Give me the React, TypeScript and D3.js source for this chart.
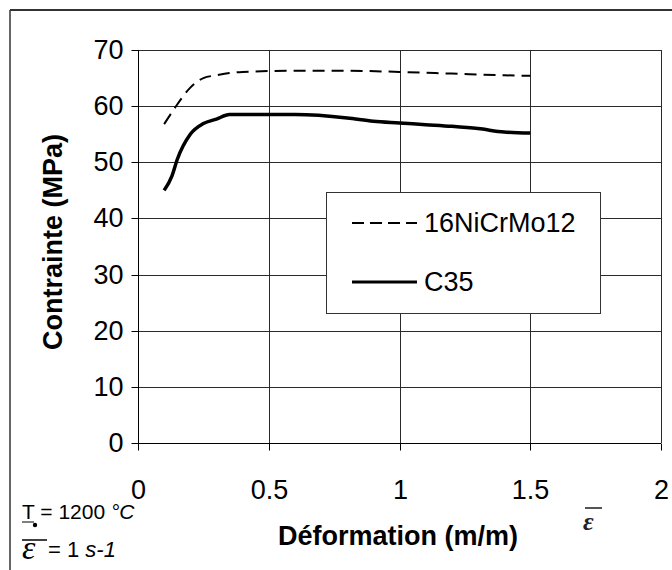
import React, { useRef, useEffect } from 'react';
import * as d3 from 'd3';

// strain (m/m) and stress (MPa)
const nicrStrain = [0.1, 0.15, 0.2, 0.25, 0.3, 0.35, 0.4, 0.6, 0.8, 1.0, 1.2, 1.4, 1.5];
const nicrStress = [56.8, 60.3, 63.3, 65.0, 65.5, 65.9, 66.1, 66.3, 66.3, 66.1, 65.8, 65.5, 65.4];

const c35Strain = [0.1, 0.13, 0.15, 0.2, 0.25, 0.3, 0.35, 0.6, 0.8, 0.9, 1.0, 1.1, 1.2, 1.3, 1.4, 1.5];
const c35Stress = [45.0, 47.6, 50.5, 55.0, 56.9, 57.7, 58.5, 58.5, 57.9, 57.3, 57.0, 56.7, 56.4, 56.0, 55.4, 55.2];

const xTicks = [0, 0.5, 1, 1.5, 2];
const yTicks = [0, 10, 20, 30, 40, 50, 60, 70];
const seriesNames = ['16NiCrMo12', 'C35'];

const FONT = '"Liberation Sans", Arial, sans-serif';

const App = () => {
  const svgRef = useRef(null);

  useEffect(() => {
    const svg = d3.select(svgRef.current);
    svg.selectAll('*').remove();

    const x = d3.scaleLinear().domain([0, 2]).range([138, 661]);
    const y = d3.scaleLinear().domain([0, 70]).range([443, 50]);
    // snap to pixel centres so 1px lines stay crisp
    const px = v => Math.round(v) + 0.5;

    // outer chart frame (only top and left edges are visible)
    svg.append('line').attr('x1', 10).attr('x2', 672).attr('y1', 10).attr('y2', 10)
      .attr('stroke', '#333').attr('stroke-width', 2);
    svg.append('line').attr('x1', 10).attr('x2', 10).attr('y1', 10).attr('y2', 570)
      .attr('stroke', '#333').attr('stroke-width', 1.5);

    // grid
    const grid = svg.append('g').attr('stroke', '#2a2a2a').attr('stroke-width', 1);
    grid.selectAll('.hg').data(yTicks.filter(d => d > 0)).enter().append('line')
      .attr('x1', x(0)).attr('x2', x(2))
      .attr('y1', d => px(y(d))).attr('y2', d => px(y(d)));
    grid.selectAll('.vg').data(xTicks.filter(d => d > 0)).enter().append('line')
      .attr('x1', d => px(x(d))).attr('x2', d => px(x(d)))
      .attr('y1', y(0)).attr('y2', y(70));

    // axes
    const xAxis = svg.append('g')
      .attr('transform', `translate(0,${px(y(0))})`)
      .call(d3.axisBottom(x).tickValues(xTicks).tickSize(7).tickPadding(29).tickFormat(d3.format('')));
    const yAxis = svg.append('g')
      .attr('transform', `translate(${px(x(0))},0)`)
      .call(d3.axisLeft(y).tickValues(yTicks).tickSize(7).tickPadding(8));
    [xAxis, yAxis].forEach(a => {
      a.select('.domain').attr('stroke', '#000').attr('stroke-width', 1);
      a.selectAll('.tick line').attr('stroke', '#000');
      a.selectAll('text').attr('font-family', FONT).attr('font-size', 27).attr('fill', '#000');
    });
    xAxis.selectAll('.tick').attr('transform', d => `translate(${px(x(d))},0)`);
    yAxis.selectAll('.tick').attr('transform', d => `translate(0,${px(y(d))})`);
    xAxis.select('.domain').attr('d', `M${x(0)},0H${x(2)}`);
    yAxis.select('.domain').attr('d', `M0,${y(0)}V${y(70)}`);

    // curves
    const line = d3.line().x(d => x(d[0])).y(d => y(d[1])).curve(d3.curveMonotoneX);
    const nicr = nicrStrain.map((s, i) => [s, nicrStress[i]]);
    const c35 = c35Strain.map((s, i) => [s, c35Stress[i]]);

    svg.append('path').attr('d', line(nicr)).attr('fill', 'none')
      .attr('stroke', '#000').attr('stroke-width', 2).attr('stroke-dasharray', '12,7');
    svg.append('path').attr('d', line(c35)).attr('fill', 'none')
      .attr('stroke', '#000').attr('stroke-width', 3.5).attr('stroke-linejoin', 'round');

    // axis titles
    svg.append('text').attr('transform', 'translate(62,242) rotate(-90)')
      .attr('text-anchor', 'middle').attr('font-family', FONT).attr('font-weight', 'bold')
      .attr('font-size', 27).text('Contrainte (MPa)');
    svg.append('text').attr('x', 398).attr('y', 545)
      .attr('text-anchor', 'middle').attr('font-family', FONT).attr('font-weight', 'bold')
      .attr('font-size', 27).text('Déformation (m/m)');

    // legend
    const lg = svg.append('g');
    lg.append('rect').attr('x', 326.5).attr('y', 192.5).attr('width', 274).attr('height', 121)
      .attr('fill', '#fff').attr('stroke', '#333').attr('stroke-width', 1);
    const rows = [
      { name: seriesNames[0], y: 223, dash: '12,6', w: 2 },
      { name: seriesNames[1], y: 282, dash: null, w: 3 },
    ];
    rows.forEach(r => {
      lg.append('line').attr('x1', 352).attr('x2', 417).attr('y1', r.y).attr('y2', r.y)
        .attr('stroke', '#000').attr('stroke-width', r.w).attr('stroke-dasharray', r.dash);
      lg.append('text').attr('x', 424).attr('y', r.y + 9).attr('font-family', FONT)
        .attr('font-size', 27).text(r.name);
    });

    // test conditions, bottom left
    svg.append('text').attr('x', 22).attr('y', 519).attr('font-family', FONT).attr('font-size', 21)
      .html('T = 1200 <tspan font-style="italic">°C</tspan>');
    svg.append('line').attr('x1', 22).attr('x2', 34).attr('y1', 522).attr('y2', 522)
      .attr('stroke', '#000').attr('stroke-width', 1);
    svg.append('circle').attr('cx', 35).attr('cy', 525).attr('r', 2.2).attr('fill', '#000');
    svg.append('line').attr('x1', 22).attr('x2', 47).attr('y1', 540).attr('y2', 540)
      .attr('stroke', '#000').attr('stroke-width', 1.5);
    svg.append('text').attr('x', 22).attr('y', 559).attr('font-family', '"Liberation Serif", serif')
      .attr('font-style', 'italic').attr('font-size', 34).text('ε');
    svg.append('text').attr('x', 48).attr('y', 557).attr('font-family', FONT).attr('font-size', 22)
      .html('= 1 <tspan font-style="italic">s-1</tspan>');

    // strain symbol next to the x title
    svg.append('line').attr('x1', 585).attr('x2', 602).attr('y1', 508).attr('y2', 508)
      .attr('stroke', '#555').attr('stroke-width', 2);
    svg.append('text').attr('x', 583).attr('y', 530).attr('font-family', '"Liberation Serif", serif')
      .attr('font-style', 'italic').attr('font-weight', 'bold').attr('font-size', 26)
      .attr('fill', '#222').text('ε');
  }, []);

  return (
    <svg ref={svgRef} width={672} height={570}
      style={{ position: 'absolute', left: 0, top: 0, background: '#fff' }} />
  );
};

export default App;
